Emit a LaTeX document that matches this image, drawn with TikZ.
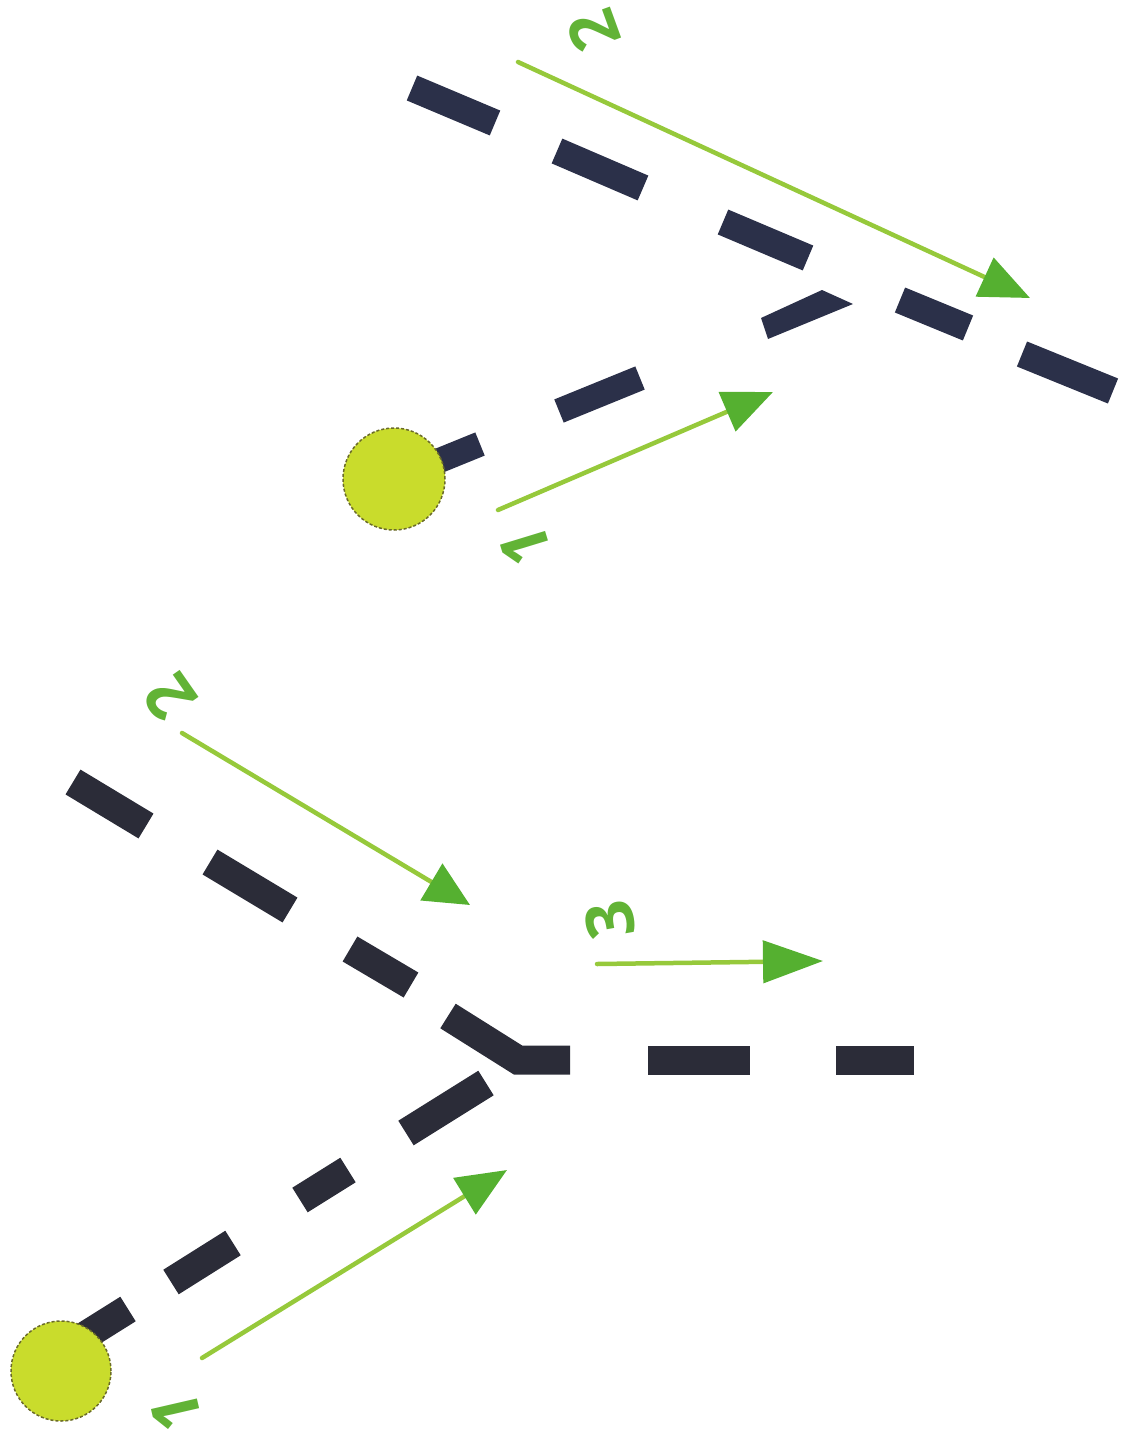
\documentclass[tikz,border=0pt]{standalone}
\usepackage{fontspec}
\newfontfamily\hand{Open Sans}
\usetikzlibrary{arrows.meta}
\definecolor{dtop}{HTML}{2B3049}
\definecolor{dbot}{HTML}{2B2C38}
\definecolor{gline}{HTML}{96C93B}
\definecolor{ghead}{HTML}{55B030}
\definecolor{gtext}{HTML}{62B336}
\definecolor{cfill}{HTML}{C9DC2C}
\definecolor{cedge}{HTML}{6B6B2A}
\tikzset{
  bartop/.style={draw=dtop, line width=27pt, line cap=butt},
  barbot/.style={draw=dbot, line width=29pt, line cap=butt},
  stopnode/.style={circle, fill=cfill, draw=cedge, densely dashed, line width=1.5pt, inner sep=0pt, minimum size=#1},
  garrow/.style={draw=gline, line width=4.5pt, line cap=round, -{Triangle[length=#1, width=42pt, color=ghead]}},
  garrow/.default=50pt,
  lbl/.style={text=gtext, font=\hand\bfseries\fontsize{66}{66}\selectfont, inner sep=0pt}
}
\begin{document}
\begin{tikzpicture}[x=1pt,y=-1pt]
\useasboundingbox (0,0) rectangle (1127,1438);
% ===== top diagram =====
% line 2 (upper-left to lower-right)
\draw[bartop] (412,88) -- (495,123);
\draw[bartop] (557,151) -- (643,188);
\draw[bartop] (723,222) -- (808,258);
\draw[bartop] (900,300) -- (968,328);
\draw[bartop] (1022,354) -- (1113,391);
% line 1 (from stop up-right)
\draw[bartop, line width=25pt] (394,479) -- (480,444);
\draw[bartop, line width=25pt] (559,411) -- (640,378);
\fill[dtop] (761,318) -- (822,290) -- (853,304) -- (768,339) -- cycle;
\node[stopnode=102pt] (c1) at (394,479) {};
% arrows
\coordinate (t2s) at (518,62);
\coordinate (t2e) at (1030,298);
\coordinate (t1s) at (498,510);
\coordinate (t1e) at (773,392);
\draw[garrow] (t2s) -- (t2e);
\draw[garrow] (t1s) -- (t1e);
\node[lbl, rotate=110] (l2t) at (594,31) {2};
\node[lbl, rotate=107] (l1t) at (525,546) {1};
% ===== bottom diagram =====
\draw[barbot] (73,782) -- (146,826);
\draw[barbot] (210,862) -- (290,910);
\draw[barbot] (350,949) -- (411,985);
\draw[barbot, line join=miter] (448,1016) -- (518,1060) -- (570,1060);
\draw[barbot] (648,1060) -- (750,1060);
\draw[barbot] (836,1060) -- (914,1060);
\draw[barbot] (61,1351) -- (128,1309);
\draw[barbot] (171,1282) -- (233,1243);
\draw[barbot] (300,1200) -- (348,1170);
\draw[barbot] (406,1133) -- (486,1083);
\node[stopnode=100pt] (c2) at (61,1371) {};
\coordinate (b2s) at (182,733);
\coordinate (b2e) at (470,905);
\coordinate (b3s) at (597,964);
\coordinate (b3e) at (823,961);
\coordinate (b1s) at (202,1358);
\coordinate (b1e) at (507,1170);
\draw[garrow=45pt] (b2s) -- (b2e);
\draw[garrow=60pt] (b3s) -- (b3e);
\draw[garrow] (b1s) -- (b1e);
\node[lbl, rotate=125] (l2b) at (170,698) {2};
\node[lbl, rotate=100] (l3b) at (610,920) {3};
\node[lbl, rotate=103] (l1b) at (176,1412) {1};
\end{tikzpicture}
\end{document}
